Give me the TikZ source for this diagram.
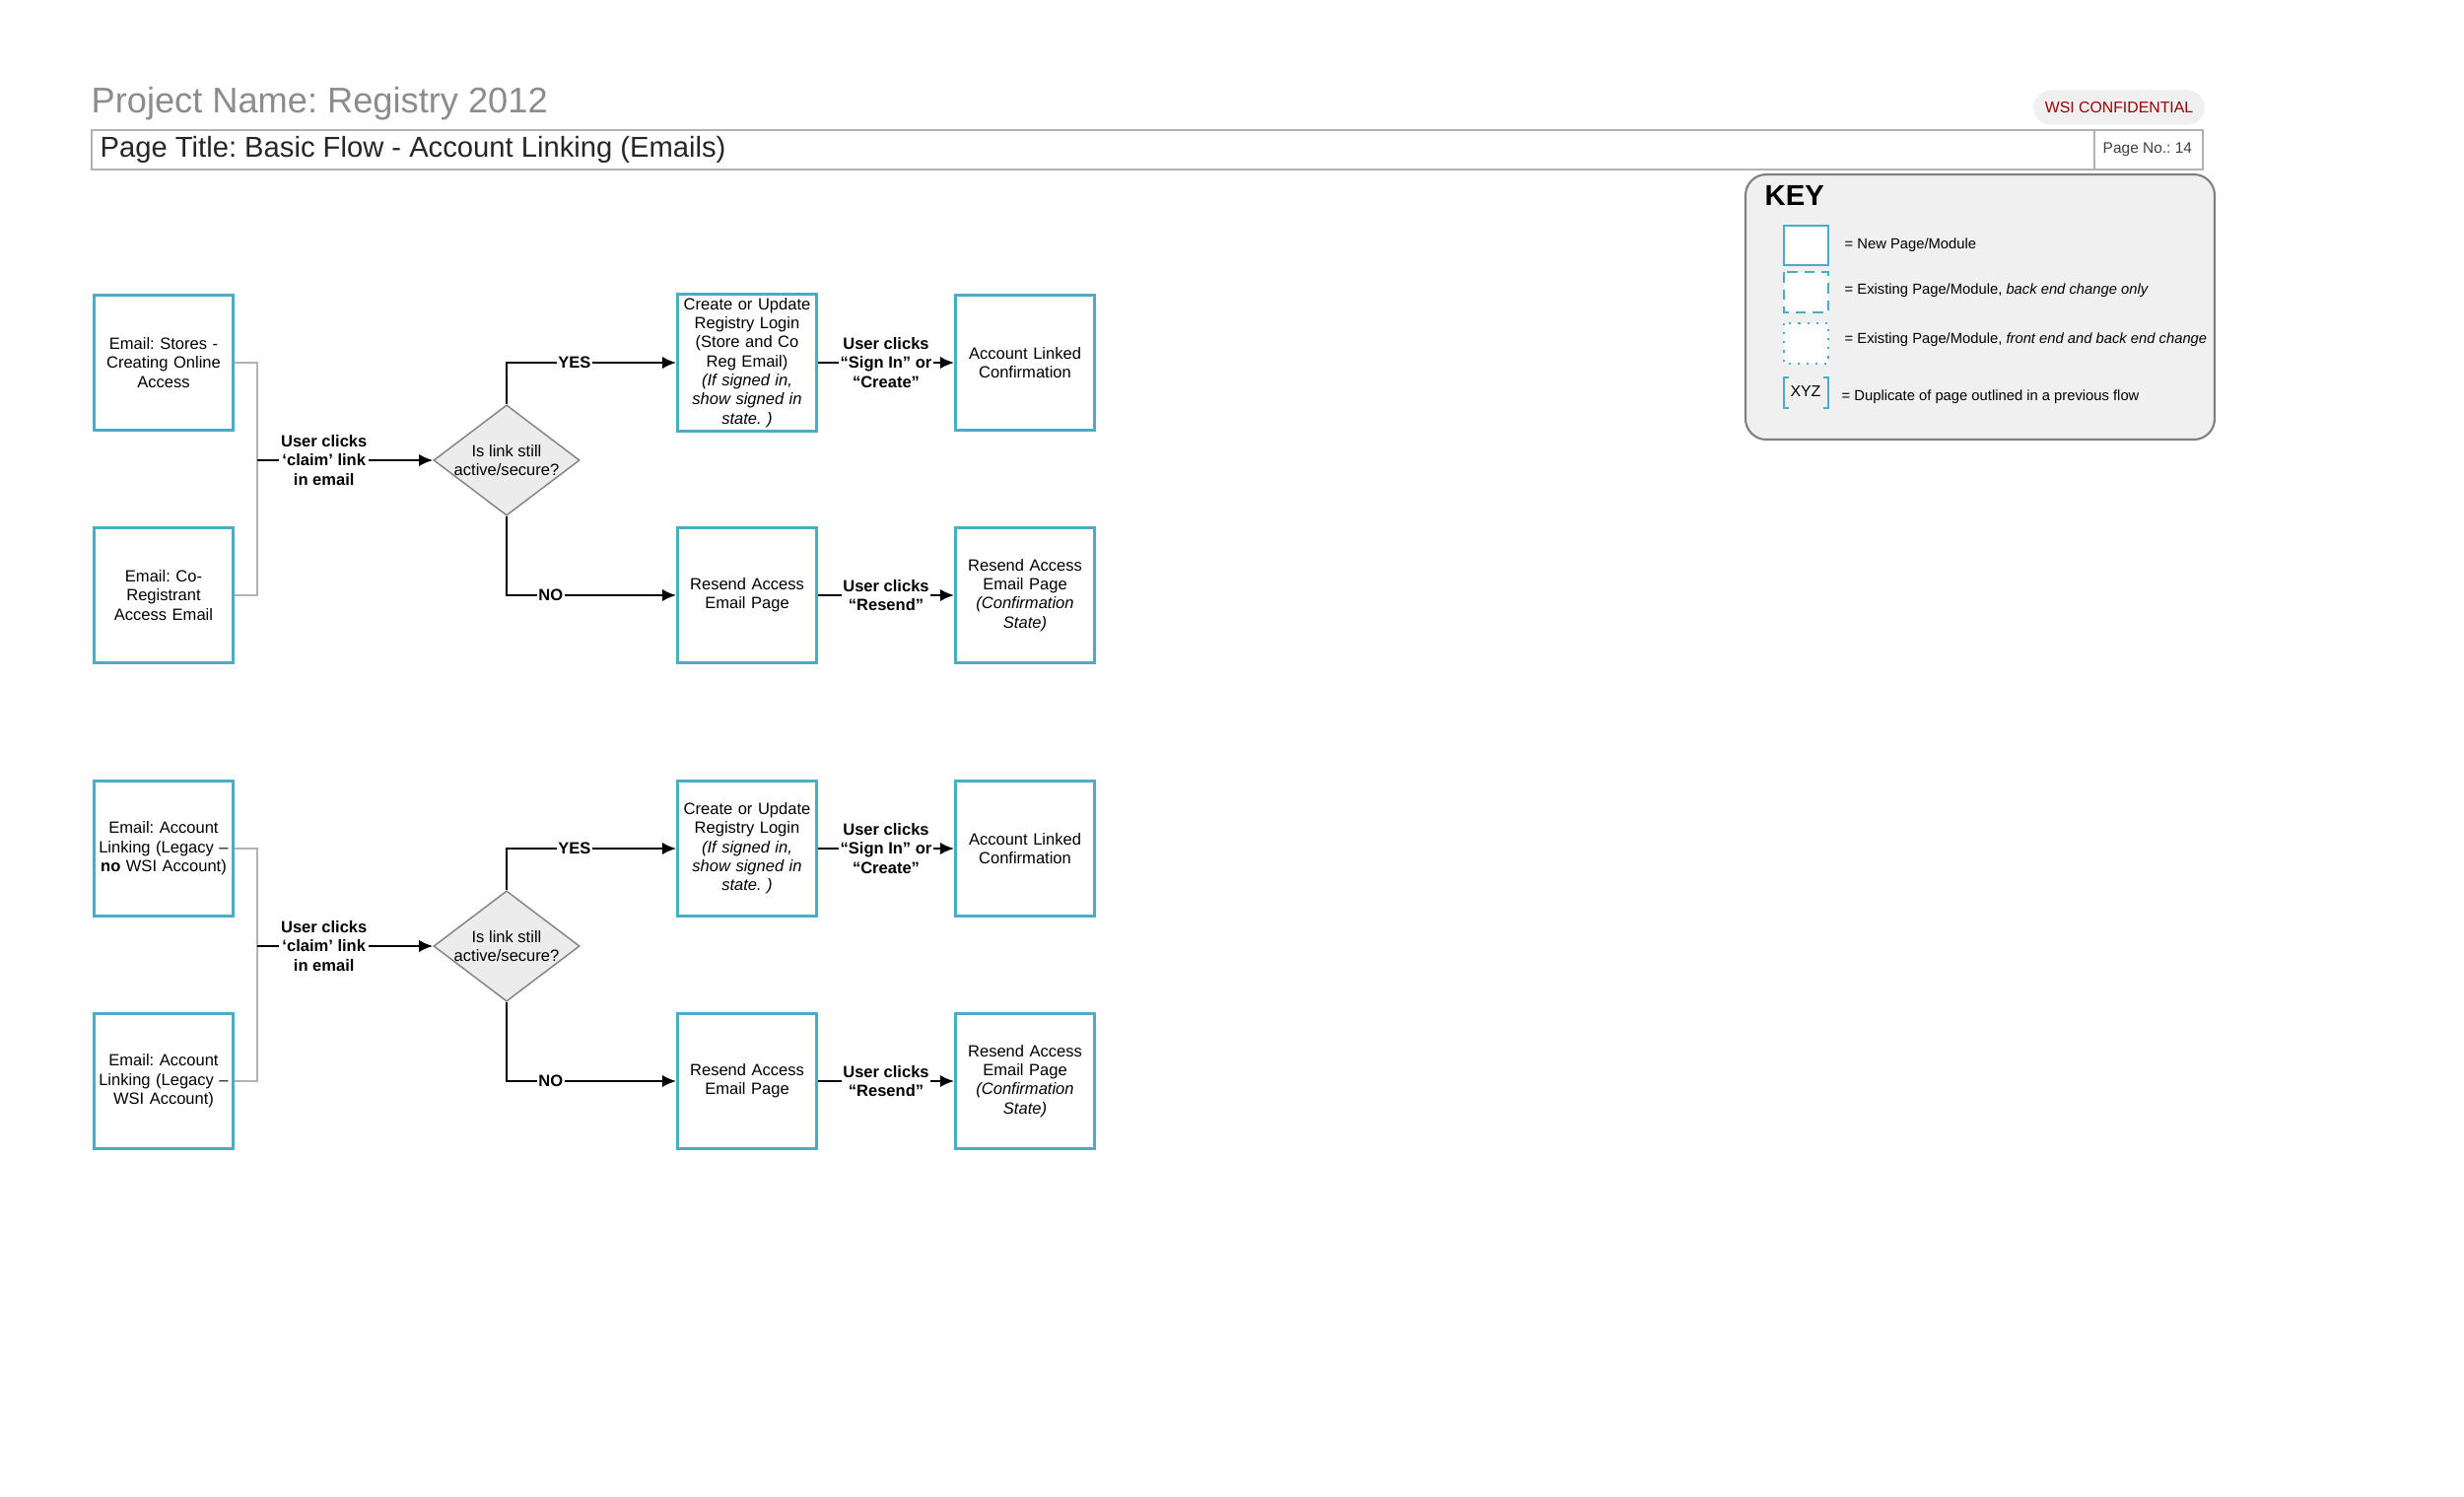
\documentclass[tikz,border=0pt]{standalone}
\usepackage{fontspec}
\setmainfont{Liberation Sans}
\usetikzlibrary{arrows.meta,shapes.geometric}
\frenchspacing
\definecolor{bx}{RGB}{75,172,198}
\definecolor{tg}{RGB}{140,140,140}
\tikzset{
 pg/.style={draw=bx,line width=0.8pt,minimum width=1.38cm,minimum height=1.37cm,align=center,inner sep=1pt,text width=1.34cm,font=\fontsize{4.7}{5.5}\selectfont},
 dec/.style={diamond,draw=gray,fill=gray!15,minimum width=1.46cm,minimum height=1.1cm,inner sep=0pt,align=center,aspect=1.32,font=\fontsize{4.7}{5.5}\selectfont},
 lbl/.style={fill=white,inner sep=0.5pt,align=center,font=\bfseries\fontsize{4.7}{5.5}\selectfont},
 arr/.style={-{Latex[length=4pt,width=3.5pt]},line width=0.6pt},
 gl/.style={draw=gray!60,line width=0.6pt},
 kt/.style={anchor=west,font=\fontsize{4.2}{5}\selectfont,inner sep=0pt}
}
\newcommand\myflow[5]{%
 \begin{scope}[shift={(0,#2)}]
 \node[pg] (a#1) at (166,368) {#3};
 \node[pg] (b#1) at (166,604) {#4};
 \node[dec] (d#1) at (514,467) {Is link still\\active/secure?};
 \node[pg] (c#1) at (758,368) {#5};
 \node[pg] (e#1) at (1040,368) {Account Linked\\Confirmation};
 \node[pg] (f#1) at (758,604) {Resend Access\\Email Page};
 \node[pg] (g#1) at (1040,604) {Resend Access\\Email Page\\\textit{(Confirmation\\State)}};
 \coordinate (j#1) at (261,467);
 \end{scope}
 \draw[gl] (a#1.east) -| (j#1) |- (b#1.east);
 \draw[arr] (j#1) -- node[lbl,pos=0.38]{User clicks\\‘claim’ link\\in email} (d#1.west);
 \draw[arr] (d#1.north) |- node[lbl,pos=0.7]{YES} (c#1.west);
 \draw[arr] (d#1.south) |- node[lbl,pos=0.63]{NO} (f#1.west);
 \draw[arr] (c#1.east) -- node[lbl]{User clicks\\“Sign In” or\\“Create”} (e#1.west);
 \draw[arr] (f#1.east) -- node[lbl]{User clicks\\“Resend”} (g#1.west);
}
\begin{document}
\begin{tikzpicture}[x=0.01cm,y=-0.01cm]
\useasboundingbox (0,0) rectangle (2500,1518);
\node[anchor=west,text=tg,font=\fontsize{10.3}{12}\selectfont,inner sep=0pt] (pn) at (92,105) {Project Name: Registry 2012};
\draw[gray!60,line width=0.6pt] (93,132) rectangle (2235,172);
\draw[gray!60,line width=0.6pt] (2125,132) -- (2125,172);
\node[anchor=west,font=\fontsize{8.3}{10}\selectfont,inner sep=0pt,text=black!85] (pt) at (101,152) {Page Title: Basic Flow - Account Linking (Emails)};
\node[anchor=west,font=\fontsize{4.4}{5}\selectfont,inner sep=0pt,text=black!75] (pno) at (2133,152) {Page No.: 14};
\node[fill=gray!12,rounded corners=5pt,minimum width=1.69cm,minimum height=0.35cm,text=red!60!black,font=\fontsize{4.5}{5}\selectfont] (wsi) at (2150,109) {WSI CONFIDENTIAL};
\draw[gray,fill=gray!12,rounded corners=6pt,line width=0.6pt] (1771,177) rectangle (2247,446);
\node[anchor=west,font=\bfseries\fontsize{8.3}{10}\selectfont,inner sep=0pt] (key) at (1790,198) {KEY};
\draw[bx,fill=white,line width=0.7pt] (1810,229) rectangle (1855,269);
\draw[bx,fill=white,line width=0.7pt,dash pattern=on 3pt off 2pt] (1810,276) rectangle (1855,317);
\draw[bx,fill=white,line width=0.6pt,dotted] (1810,328) rectangle (1855,369);
\draw[bx,line width=0.7pt] (1815,383) -- (1810,383) -- (1810,414) -- (1815,414);
\draw[bx,line width=0.7pt] (1850,383) -- (1855,383) -- (1855,414) -- (1850,414);
\node[font=\fontsize{4.5}{5}\selectfont,inner sep=0pt] (xyz) at (1832,397) {XYZ};
\node[kt] (k1) at (1871,249) {= New Page/Module};
\node[kt] (k2) at (1871,295) {= Existing Page/Module, \textit{back end change only}};
\node[kt] (k3) at (1871,345) {= Existing Page/Module, \textit{front end and back end change}};
\node[kt] (k4) at (1868,403) {= Duplicate of page outlined in a previous flow};
\myflow{1}{0}{Email: Stores -\\Creating Online\\Access}{Email: Co-\\Registrant\\Access Email}{Create or Update\\Registry Login\\(Store and Co\\Reg Email)\\\textit{(If signed in,\\show signed in\\state. )}}
\myflow{2}{493}{Email: Account\\Linking (Legacy --\\\textbf{no} WSI Account)}{Email: Account\\Linking (Legacy --\\WSI Account)}{Create or Update\\Registry Login\\\textit{(If signed in,\\show signed in\\state. )}}
\end{tikzpicture}
\end{document}
